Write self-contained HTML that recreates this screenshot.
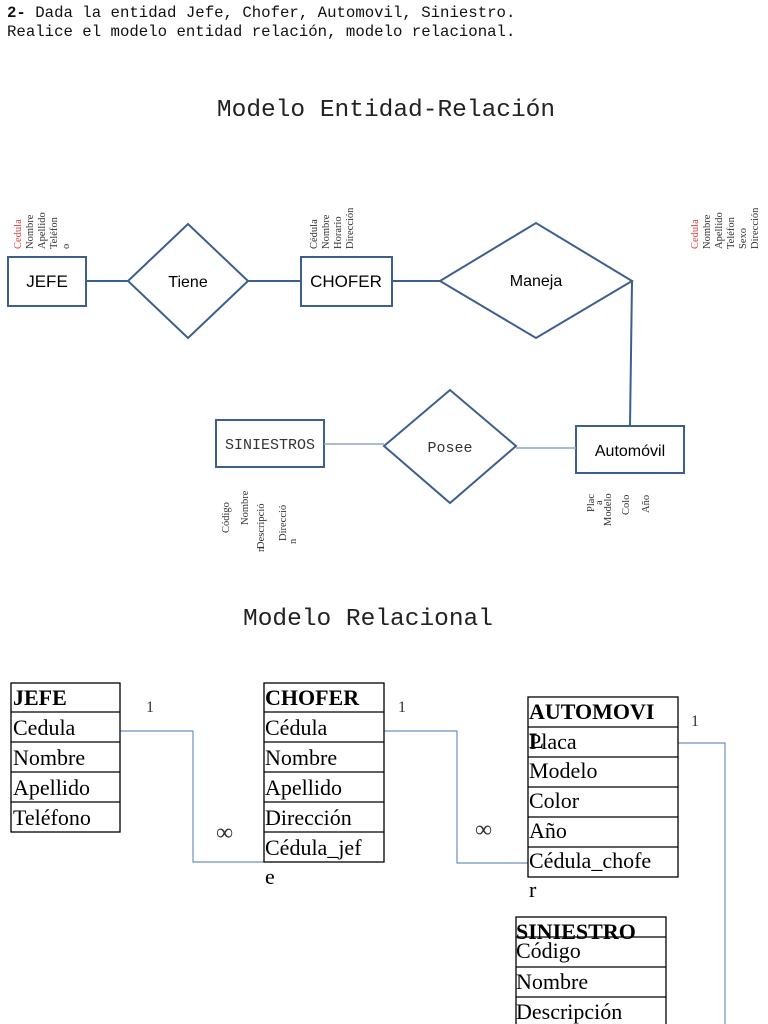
<!DOCTYPE html>
<html><head><meta charset="utf-8"><style>
html,body{margin:0;padding:0;background:#fff;}
svg{display:block;}
.m{font-family:"Liberation Mono",monospace;}
.s{font-family:"Liberation Sans",sans-serif;}
.r{font-family:"Liberation Serif",serif;}
</style></head><body>
<svg width="768" height="1024" viewBox="0 0 768 1024" xmlns="http://www.w3.org/2000/svg">
<g class="m" font-size="15.7" fill="#111">
<text x="7" y="17"><tspan font-weight="bold">2-</tspan> Dada la entidad Jefe, Chofer, Automovil, Siniestro.</text>
<text x="7" y="36">Realice el modelo entidad relación, modelo relacional.</text>
</g>
<text class="m" x="386" y="116" font-size="24.5" text-anchor="middle" fill="#222">Modelo Entidad-Relación</text>
<text class="m" x="368" y="625" font-size="24.5" text-anchor="middle" fill="#222">Modelo Relacional</text>

<g stroke="#3d5f8e" stroke-width="2" fill="none">
<rect x="8" y="257" width="78" height="49"/>
<polygon points="128,281 188,224 248,281 188,338"/>
<rect x="301" y="257" width="91" height="49"/>
<polygon points="440,281 536,223 632,281 536,338"/>
<rect x="576" y="426" width="108" height="47"/>
<polygon points="384,446 450,390 516,446 450,503"/>
<rect x="216" y="420" width="108" height="47"/>
<line x1="86" y1="281" x2="128" y2="281"/>
<line x1="248" y1="281" x2="301" y2="281"/>
<line x1="392" y1="281" x2="440" y2="281"/>
<line x1="632" y1="281" x2="630" y2="426"/>
</g>
<g stroke="#8ea6c4" stroke-width="1.5">
<line x1="324" y1="444" x2="384" y2="444"/>
<line x1="516" y1="448" x2="576" y2="448"/>
</g>
<g class="s" font-size="17" fill="#000" text-anchor="middle">
<text x="47" y="287">JEFE</text>
<text x="188" y="287" font-size="16">Tiene</text>
<text x="346" y="287">CHOFER</text>
<text x="536" y="286" font-size="16">Maneja</text>
<text x="630" y="456" font-size="16">Automóvil</text>
</g>
<text class="m" x="270" y="449" font-size="15" text-anchor="middle" fill="#333">SINIESTROS</text>
<text class="m" x="450" y="452" font-size="15" text-anchor="middle" fill="#333">Posee</text>

<g class="r" font-size="10.5" fill="#333">
<text transform="translate(21,249) rotate(-90)" fill="#e04040">Cedula</text>
<text transform="translate(33,249) rotate(-90)">Nombre</text>
<text transform="translate(45,249) rotate(-90)">Apellido</text>
<text transform="translate(57,249) rotate(-90)">Teléfon</text>
<text transform="translate(69,249) rotate(-90)">o</text>
<text transform="translate(317,249) rotate(-90)">Cédula</text>
<text transform="translate(329,249) rotate(-90)">Nombre</text>
<text transform="translate(341,249) rotate(-90)">Horario</text>
<text transform="translate(353,249) rotate(-90)">Dirección</text>
<text transform="translate(698,249) rotate(-90)" fill="#e04040">Cedula</text>
<text transform="translate(710,249) rotate(-90)">Nombre</text>
<text transform="translate(722,249) rotate(-90)">Apellido</text>
<text transform="translate(734,249) rotate(-90)">Teléfon</text>
<text transform="translate(746,249) rotate(-90)">Sexo</text>
<text transform="translate(758,249) rotate(-90)">Dirección</text>
<text transform="translate(229,533) rotate(-90)">Código</text>
<text transform="translate(248,525) rotate(-90)">Nombre</text>
<text transform="translate(264,549) rotate(-90)">Descripció</text>
<text transform="translate(264,552) rotate(-90)">n</text>
<text transform="translate(286,541) rotate(-90)">Direcció</text>
<text transform="translate(296,544) rotate(-90)">n</text>
<text transform="translate(594,512) rotate(-90)">Plac</text>
<text transform="translate(602,505) rotate(-90)">a</text>
<text transform="translate(611,526) rotate(-90)">Modelo</text>
<text transform="translate(629,515) rotate(-90)">Colo</text>
<text transform="translate(649,513) rotate(-90)">Año</text>
</g>

<!-- connectors relational -->
<g stroke="#6b8fbf" stroke-width="1.2" fill="none">
<polyline points="120,731 193,731 193,862 264,862"/>
<polyline points="384,731 457,731 457,863 528,863"/>
<polyline points="678,743 725,743 725,1024"/>
</g>
<g class="r" fill="#333">
<text x="146" y="712" font-size="16">1</text>
<text x="398" y="712" font-size="16">1</text>
<text x="691" y="726" font-size="16">1</text>
<text x="216" y="840" font-size="24">∞</text>
<text x="475" y="837" font-size="24">∞</text>
</g>

<g stroke="#000" stroke-width="1.3" fill="none">
<rect x="11" y="683" width="109" height="149"/>
<line x1="11" y1="712" x2="120" y2="712"/><line x1="11" y1="742" x2="120" y2="742"/>
<line x1="11" y1="772" x2="120" y2="772"/><line x1="11" y1="802" x2="120" y2="802"/>
<rect x="264" y="683" width="120" height="179"/>
<line x1="264" y1="712" x2="384" y2="712"/><line x1="264" y1="742" x2="384" y2="742"/>
<line x1="264" y1="772" x2="384" y2="772"/><line x1="264" y1="802" x2="384" y2="802"/>
<line x1="264" y1="832" x2="384" y2="832"/>
<rect x="528" y="697" width="150" height="180"/>
<line x1="528" y1="727" x2="678" y2="727"/><line x1="528" y1="757" x2="678" y2="757"/>
<line x1="528" y1="787" x2="678" y2="787"/><line x1="528" y1="817" x2="678" y2="817"/>
<line x1="528" y1="847" x2="678" y2="847"/>
<rect x="516" y="917" width="150" height="110"/>
<line x1="516" y1="937" x2="666" y2="937"/><line x1="516" y1="967" x2="666" y2="967"/>
<line x1="516" y1="997" x2="666" y2="997"/>
</g>
<g class="r" font-size="22" fill="#000">
<text x="13" y="705" font-weight="bold">JEFE</text>
<text x="13" y="735">Cedula</text><text x="13" y="765">Nombre</text>
<text x="13" y="795">Apellido</text><text x="13" y="825">Teléfono</text>
<text x="265" y="705" font-weight="bold">CHOFER</text>
<text x="265" y="735">Cédula</text><text x="265" y="765">Nombre</text>
<text x="265" y="795">Apellido</text><text x="265" y="825">Dirección</text>
<text x="265" y="855">Cédula_jef</text><text x="265" y="884">e</text>
<text x="529" y="719" font-weight="bold">AUTOMOVI</text>
<text x="529" y="748" font-weight="bold">L</text>
<text x="529" y="749">Placa</text><text x="529" y="778">Modelo</text>
<text x="529" y="808">Color</text><text x="529" y="838">Año</text>
<text x="529" y="868">Cédula_chofe</text><text x="529" y="897">r</text>
<text x="516" y="939" font-weight="bold">SINIESTRO</text>
<text x="516" y="958">Código</text><text x="516" y="989">Nombre</text>
<text x="516" y="1019">Descripción</text>
</g>
</svg>
</body></html>
